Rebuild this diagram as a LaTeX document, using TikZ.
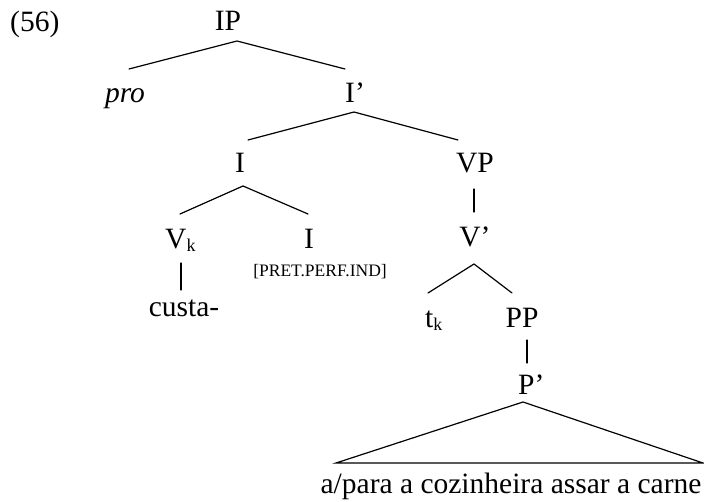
\documentclass[tikz,border=0pt]{standalone}
\usepackage{fontspec}
\setmainfont{Liberation Serif}
\newcommand{\subk}{\raisebox{-3pt}{\fontsize{18}{18}\selectfont k}}
\begin{document}
\begin{tikzpicture}[x=1pt,y=-1pt,
  lab/.style={anchor=base,inner sep=0pt,font=\fontsize{29.5}{34}\selectfont},
  feat/.style={anchor=base,inner sep=0pt,font=\fontsize{17.5}{20}\selectfont},
  branch/.style={line width=1.2pt,line cap=round}]
\useasboundingbox (0,0) rectangle (704,502);
% labels
\node[lab,anchor=base west] (ex) at (10,32) {(56)};
\node[lab] (IP) at (228,31) {IP};
\node[lab] (pro) at (125,103) {\itshape pro};
\node[lab] (Ibar) at (355,103) {I’};
\node[lab] (I) at (240,173) {I};
\node[lab] (VP) at (475,173) {VP};
\node[lab,anchor=base west] (Vk) at (165,249) {V\subk};
\node[lab] (I2) at (309,249) {I};
\node[feat] (feat) at (320,277) {[PRET.PERF.IND]};
\node[lab] (Vbar) at (475,247) {V’};
\node[lab] (custa) at (184,317) {custa-};
\node[lab,anchor=base west] (tk) at (425,328) {t\subk};
\node[lab] (PP) at (522,328) {PP};
\node[lab,anchor=base west] (Pbar) at (518,395) {P’};
\node[lab] (sent) at (511,493) {a/para a cozinheira assar a carne};
% branch points
\coordinate (IPb) at (237,41);
\coordinate (proT) at (129,69);
\coordinate (IbarT) at (345,69);
\coordinate (Ibarb) at (354,112);
\coordinate (IT) at (248,140);
\coordinate (VPT) at (458,140);
\coordinate (Ib) at (243,186);
\coordinate (VkT) at (180,214);
\coordinate (I2T) at (308,214);
\coordinate (VPb) at (474,189);
\coordinate (VbarT) at (474,212);
\coordinate (Vkb) at (181,263);
\coordinate (custaT) at (181,290);
\coordinate (Vbarb) at (474,264);
\coordinate (tkT) at (428,293);
\coordinate (PPT) at (512,293);
\coordinate (PPb) at (527,340);
\coordinate (PbarT) at (527,363);
\coordinate (Pbarb) at (523,402);
\coordinate (triL) at (336,463);
\coordinate (triR) at (703,463);
% branches
\draw[branch] (proT) -- (IPb) -- (IbarT);
\draw[branch] (IT) -- (Ibarb) -- (VPT);
\draw[branch] (VkT) -- (Ib) -- (I2T);
\draw[branch] (VPb) -- (VbarT);
\draw[branch] (Vkb) -- (custaT);
\draw[branch] (tkT) -- (Vbarb) -- (PPT);
\draw[branch] (PPb) -- (PbarT);
\draw[branch,line join=miter] (Pbarb) -- (triL) -- (triR) -- cycle;
\end{tikzpicture}
\end{document}
